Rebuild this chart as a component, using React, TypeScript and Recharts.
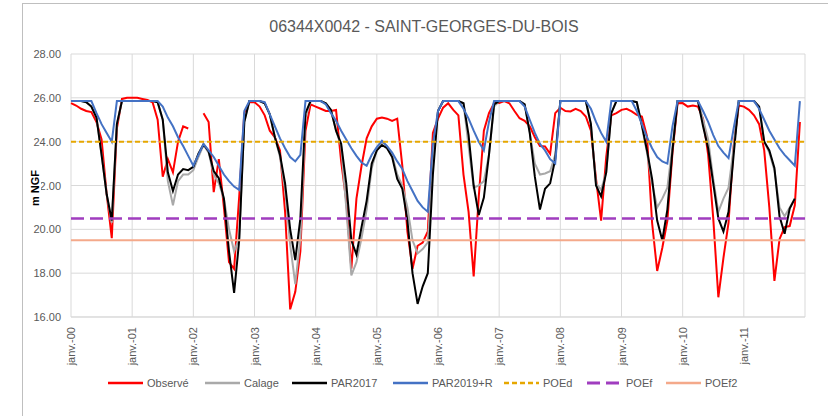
import { CartesianGrid, Line, LineChart, XAxis, YAxis } from "recharts";

// monthly values, index 0 = janv. 2000 ... 143 = déc. 2011 (m NGF)
const X_TICK_LABELS = [
  "janv.-00", "janv.-01", "janv.-02", "janv.-03", "janv.-04", "janv.-05",
  "janv.-06", "janv.-07", "janv.-08", "janv.-09", "janv.-10", "janv.-11",
];
const Y_TICKS = [16, 18, 20, 22, 24, 26, 28];

const OBSERVE: (number | null)[] = [
  25.76, 25.65, 25.5, 25.4, 25.35, 24.9, 24.1, 21.6, 19.6, 24.6, 25.95, 26.0,
  26.0, 26.0, 25.95, 25.9, 25.8, 25.0, 22.4, 23.2, 22.6, 24.0, 24.7, 24.6,
  null, null, 25.3, 24.9, 21.7, 23.2, 21.0, 18.5, 18.2, 21.5, 25.3, 25.8,
  25.8, 25.6, 25.2, 24.5, 24.2, 23.6, 20.8, 16.35, 17.15, 19.0, 24.5, 25.7,
  25.6, 25.5, 25.4, 25.4, 25.45, 23.1, 21.3, 18.2, 21.4, 22.9, 24.15, 24.7,
  25.05, 25.1, 25.05, 24.95, 25.05, 22.9, 19.9, 18.2, 19.25, 19.4, 19.9, 24.4,
  25.05, 25.55, 25.75, 25.45, 25.2, 22.5, 20.8, 17.85, 21.5, 24.5, 25.3, 25.75,
  25.76, 25.85, 25.75, 25.4, 25.07, 24.95, 24.7, 24.2, 23.8, 23.78, 23.45, 25.3,
  25.55, 25.4, 25.38, 25.5, 25.4, 25.15, 24.5, 22.3, 20.4, 23.3, 25.2, 25.3,
  25.45, 25.5, 25.38, 25.22, 25.15, 24.25, 20.3, 18.1, 19.15, 20.4, 23.5, 25.75,
  25.76, 25.6, 25.65, 25.6, 25.05, 23.4, 20.5, 16.9, 18.7, 20.3, 23.8, 25.65,
  25.6, 25.45, 25.2, 24.8, 23.6, 21.0, 17.65, 19.55, 20.1, 20.15, 21.1, 24.9,
];

const CALAGE: (number | null)[] = [
  25.85, 25.85, 25.85, 25.8, 25.6, 25.1, 23.4, 21.6, 20.3, 24.8, 25.85, 25.85,
  25.85, 25.85, 25.85, 25.85, 25.85, 25.8, 25.0, 22.2, 21.1, 22.2, 22.5, 22.5,
  22.7, 23.3, 23.85, 23.5, 22.5, 22.1, 21.4, 20.0, 19.0, 19.6, 24.9, 25.85,
  25.85, 25.85, 25.75, 25.25, 24.2, 23.3, 21.8, 19.3, 17.5, 19.6, 25.1, 25.85,
  25.85, 25.85, 25.75, 25.45, 24.5, 23.8, 21.0, 17.9, 18.5, 19.6, 20.9, 22.8,
  23.6, 24.0, 23.8, 23.4, 22.5, 22.0, 21.0, 19.5, 18.9, 19.1, 19.4, 23.0,
  25.4, 25.85, 25.85, 25.85, 25.85, 25.75, 23.8, 21.9, 22.0, 22.2, 23.4, 25.6,
  25.85, 25.85, 25.85, 25.85, 25.85, 25.7, 24.4, 23.0, 22.5, 22.55, 22.65, 23.4,
  25.85, 25.85, 25.85, 25.85, 25.85, 25.85, 24.8, 22.1, 21.8, 22.6, 25.3, 25.85,
  25.85, 25.85, 25.85, 25.8, 24.7, 23.5, 22.1, 21.0, 21.4, 21.9, 23.8, 25.85,
  25.85, 25.85, 25.85, 25.85, 25.0, 24.1, 22.3, 20.8, 21.4, 21.9, 23.7, 25.85,
  25.85, 25.85, 25.85, 25.6, 24.0, 23.5, 22.7, 21.0, 20.6, 21.0, 21.4, null,
];

const PAR2017: (number | null)[] = [
  25.85, 25.85, 25.85, 25.8, 25.6, 25.1, 23.4, 21.6, 20.4, 24.8, 25.85, 25.85,
  25.85, 25.85, 25.85, 25.85, 25.85, 25.8, 25.0, 22.6, 21.75, 22.5, 22.75, 22.7,
  22.85, 23.45, 23.88, 23.55, 22.66, 22.33, 21.4, 19.0, 17.1, 19.5, 24.9, 25.85,
  25.85, 25.85, 25.75, 25.25, 24.2, 23.4, 22.1, 20.0, 18.6, 20.5, 25.3, 25.85,
  25.85, 25.85, 25.75, 25.45, 24.5, 23.9, 22.1, 19.5, 18.85, 20.1, 21.3, 23.0,
  23.6, 23.85, 23.7, 23.3, 22.3, 21.85, 20.4, 18.0, 16.6, 17.4, 18.0, 22.5,
  25.4, 25.85, 25.85, 25.85, 25.85, 25.75, 24.3, 22.0, 20.65, 21.45, 23.4, 25.7,
  25.85, 25.85, 25.85, 25.85, 25.85, 25.7, 24.4, 22.4, 20.9, 21.85, 22.1, 23.2,
  25.85, 25.85, 25.85, 25.85, 25.85, 25.85, 24.8, 22.0, 21.5, 22.6, 25.3, 25.85,
  25.85, 25.85, 25.85, 25.8, 24.75, 23.6, 22.3, 20.4, 19.5, 20.9, 23.6, 25.85,
  25.85, 25.85, 25.85, 25.85, 24.7, 23.7, 22.1, 20.5, 19.9, 20.8, 23.4, 25.85,
  25.85, 25.85, 25.85, 25.6, 24.0, 23.6, 22.8, 20.6, 19.8, 20.95, 21.4, null,
];

const PAR2019R: (number | null)[] = [
  25.85, 25.85, 25.85, 25.85, 25.85, 25.3, 24.8, 24.4, 24.0, 25.85, 25.85, 25.85,
  25.85, 25.85, 25.85, 25.85, 25.85, 25.85, 25.6, 25.1, 24.7, 24.2, 23.8, 23.35,
  22.9, 23.4, 23.9, 23.6, 23.3, 22.9, 22.5, 22.2, 21.95, 21.8, 25.4, 25.85,
  25.85, 25.85, 25.8, 25.25, 24.7, 24.15, 23.7, 23.3, 23.1, 23.4, 25.85, 25.85,
  25.85, 25.85, 25.7, 25.3, 24.95, 24.5, 24.1, 23.7, 23.35, 23.05, 22.9, 23.4,
  23.75, 24.04, 23.8, 23.5, 23.1, 22.75, 22.2, 21.75, 21.3, 21.0, 20.8, 23.9,
  25.4, 25.85, 25.85, 25.85, 25.85, 25.5, 25.05, 24.5, 24.0, 23.6, 24.9, 25.85,
  25.85, 25.85, 25.85, 25.85, 25.85, 25.6, 25.0, 24.4, 23.9, 23.6, 23.2, 23.0,
  25.85, 25.85, 25.85, 25.85, 25.85, 25.85, 25.5, 24.9, 24.4, 24.0, 25.85, 25.85,
  25.85, 25.85, 25.85, 25.4, 24.8, 24.2, 23.7, 23.3, 23.1, 23.0, 24.7, 25.85,
  25.85, 25.85, 25.85, 25.85, 25.4, 24.9, 24.3, 23.8, 23.5, 23.25, 24.6, 25.85,
  25.85, 25.85, 25.85, 25.5, 25.0, 24.5, 24.1, 23.7, 23.4, 23.15, 22.9, 25.85,
];

// seuils
const POED_LEVEL = 24;
const POEF_LEVEL = 20.5;
const POEF2_LEVEL = 19.5;

const SERIES = [
  { key: "observe", name: "Observé", color: "#FF0000", dash: undefined, width: 2 },
  { key: "calage", name: "Calage", color: "#A9A9A9", dash: undefined, width: 2 },
  { key: "par2017", name: "PAR2017", color: "#000000", dash: undefined, width: 2 },
  { key: "par2019", name: "PAR2019+R", color: "#4472C4", dash: undefined, width: 2 },
  { key: "poed", name: "POEd", color: "#E6A700", dash: "5 3", width: 2 },
  { key: "poef", name: "POEf", color: "#A03DBF", dash: "13 6", width: 2.5 },
  { key: "poef2", name: "POEf2", color: "#F4A98A", dash: undefined, width: 2 },
];
const LEGEND_LEFT = [108, 205, 292, 393, 504, 587, 666];

const FONT = '"Liberation Sans", Arial, sans-serif';

const data = Array.from({ length: 145 }, (_, m) => ({
  m,
  observe: OBSERVE[m] ?? null,
  calage: CALAGE[m] ?? null,
  par2017: PAR2017[m] ?? null,
  par2019: PAR2019R[m] ?? null,
  poed: POED_LEVEL,
  poef: POEF_LEVEL,
  poef2: POEF2_LEVEL,
}));

function XTick({ x, y, payload }: any) {
  const label = X_TICK_LABELS[Math.round(payload.value / 12)];
  return (
    <text
      x={x - 10}
      y={y + 4}
      transform={`rotate(-90 ${x} ${y})`}
      textAnchor="end"
      fill="#595959"
      fontSize={11}
      fontFamily={FONT}
    >
      {label}
    </text>
  );
}

function YTick({ x, y, payload }: any) {
  return (
    <text x={x - 10} y={y + 4} textAnchor="end" fill="#595959" fontSize={11} fontFamily={FONT}>
      {Number(payload.value).toFixed(2)}
    </text>
  );
}

export default function App() {
  return (
    <div
      style={{
        position: "absolute",
        left: 0,
        top: 0,
        width: 828,
        height: 416,
        overflow: "hidden",
        background: "#fff",
        fontFamily: FONT,
      }}
    >
      <div
        style={{
          position: "absolute",
          left: 22,
          top: 3,
          width: 830,
          height: 430,
          border: "1px solid #BFBFBF",
        }}
      />
      <div style={{ position: "absolute", left: 0, top: 0 }}>
        <LineChart width={828} height={416} data={data} margin={{ top: 54, right: 23, bottom: 0, left: 0 }}>
          <CartesianGrid stroke="#D9D9D9" strokeWidth={1} />
          <XAxis
            dataKey="m"
            type="number"
            domain={[0, 144]}
            ticks={X_TICK_LABELS.map((_, i) => i * 12)}
            tick={<XTick />}
            tickLine={false}
            tickSize={0}
            tickMargin={0}
            axisLine={{ stroke: "#D9D9D9" }}
            height={99}
            interval={0}
          />
          <YAxis
            domain={[16, 28]}
            ticks={Y_TICKS}
            tick={<YTick />}
            tickLine={false}
            tickSize={0}
            tickMargin={0}
            axisLine={false}
            width={71}
            interval={0}
          />
          {SERIES.map((s) => (
            <Line
              key={s.key}
              dataKey={s.key}
              name={s.name}
              type="linear"
              stroke={s.color}
              strokeWidth={s.width}
              strokeDasharray={s.dash}
              dot={false}
              activeDot={false}
              isAnimationActive={false}
            />
          ))}
        </LineChart>
      </div>
      <svg
        width={828}
        height={416}
        style={{ position: "absolute", left: 0, top: 0, pointerEvents: "none" }}
      >
        <text x={424} y={32} textAnchor="middle" fontSize={16} fill="#595959" fontFamily={FONT}>
          06344X0042 - SAINT-GEORGES-DU-BOIS
        </text>
        <rect x={29} y={168} width={12} height={40} fill="#fff" />
        <text
          transform="translate(39 188) rotate(-90)"
          textAnchor="middle"
          fontSize={11}
          fontWeight="bold"
          fill="#000"
          fontFamily={FONT}
        >
          m NGF
        </text>
      </svg>
      {SERIES.map((s, i) => (
        <div
          key={s.key}
          style={{
            position: "absolute",
            left: LEGEND_LEFT[i],
            top: 376,
            display: "flex",
            alignItems: "center",
            fontSize: 11,
            color: "#595959",
            whiteSpace: "nowrap",
          }}
        >
          <svg width={35} height={14}>
            <line x1={0} y1={7} x2={35} y2={7} stroke={s.color} strokeWidth={s.width + 0.5} strokeDasharray={s.dash} />
          </svg>
          <span style={{ marginLeft: 4 }}>{s.name}</span>
        </div>
      ))}
    </div>
  );
}
